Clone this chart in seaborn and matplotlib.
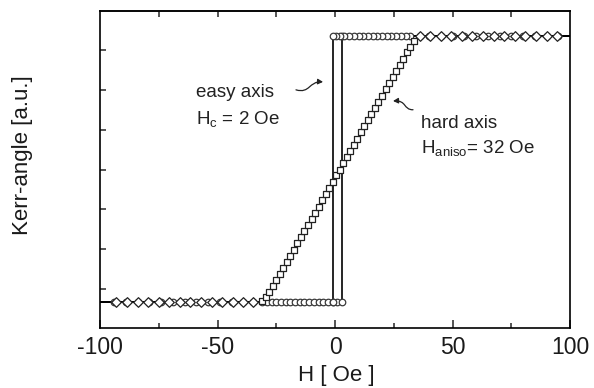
import matplotlib
matplotlib.use("Agg")
import matplotlib.pyplot as plt
import seaborn as sns
import pandas as pd
from matplotlib.patches import FancyArrowPatch
from matplotlib.path import Path

# ---------------- data ----------------
LOW = 0.67
HIGH = 7.36

# easy axis, field increasing (low level, jump at +3.1 Oe)
easy_up_x = [-94, -89, -84, -79, -74, -69, -64, -59, -54, -49, -44, -39, -35,
             -31, -29, -27, -25, -23, -21, -19, -17, -15, -13, -11, -9, -7,
             -5, -3, -1, 1, 3.1, 3.1]
easy_up_y = [LOW] * 31 + [HIGH]

# easy axis, field decreasing (high level, jump at -0.8 Oe)
easy_down_x = [95, 90, 85, 80, 75, 70, 65, 60, 55, 50, 45, 40, 36, 32, 30, 28,
               26, 24, 22, 20, 18, 16, 14, 12, 10, 8, 6, 4, 2, 0.5, -0.8, -0.8]
easy_down_y = [HIGH] * 31 + [LOW]

# guide line of the square loop
loop_x = [-100, 3.1, 3.1, 100, -0.8, -0.8, -100]
loop_y = [LOW, LOW, HIGH, HIGH, HIGH, LOW, LOW]

# hard axis, saturated parts (diamonds)
hard_sat_x = [-93, -88.5, -84, -79.5, -75, -70.5, -66, -61.5, -57, -52.5, -48,
              -43.5, -39, -35,
              36, 40.5, 45, 49.5, 54, 58.5, 63, 67.5, 72, 76.5, 81, 85.5, 90, 94.5]
hard_sat_y = [LOW] * 14 + [HIGH] * 14

# hard axis, linear part (squares)
hard_lin_x = [-31, -29.5, -28, -26.5, -25, -23.5, -22, -20.5, -19, -17.5, -16,
              -14.5, -13, -11.5, -10, -8.5, -7, -5.5, -4, -2.5, -1, 0.5, 2,
              3.5, 5, 6.5, 8, 9.5, 11, 12.5, 14, 15.5, 17, 18.5, 20, 21.5, 23,
              24.5, 26, 27.5, 29, 30.5, 32, 33.5]
hard_lin_y = [0.70, 0.80, 0.93, 1.07, 1.22, 1.37, 1.53, 1.68, 1.84, 1.99, 2.15,
              2.30, 2.46, 2.61, 2.76, 2.92, 3.07, 3.23, 3.38, 3.54, 3.69, 3.85,
              4.00, 4.16, 4.31, 4.46, 4.62, 4.77, 4.93, 5.08, 5.24, 5.39, 5.55,
              5.70, 5.85, 6.01, 6.16, 6.32, 6.47, 6.63, 6.78, 6.94, 7.08, 7.22]

x_major = [-100, -50, 0, 50, 100]
x_minor = [-75, -25, 25, 75]
x_top = [-75, -50, -25, 0, 25, 50, 75]
y_ticks = [1, 2, 3, 4, 5, 6, 7]

# ---------------- figure ----------------
sns.set_theme(style="ticks")
plt.rcParams["font.family"] = ["Liberation Sans", "DejaVu Sans"]
plt.rcParams["mathtext.fontset"] = "custom"
plt.rcParams["mathtext.rm"] = "Liberation Sans"
plt.rcParams["mathtext.it"] = "Liberation Sans"

fig = plt.figure(figsize=(5.94, 3.88), dpi=100)
ax = fig.add_axes([100 / 594, 60 / 388, 470 / 594, 317 / 388])

loop_df = pd.DataFrame({"x": loop_x, "y": loop_y})
sns.lineplot(data=loop_df, x="x", y="y", sort=False, estimator=None,
             color="black", linewidth=1.2, ax=ax, zorder=2)

mk_edge = "#3a3a3a"
for xs, ys in [(easy_up_x, easy_up_y), (easy_down_x, easy_down_y)]:
    sns.scatterplot(x=xs, y=ys, marker="o", s=22, facecolor="white",
                    edgecolor=mk_edge, linewidth=0.9, ax=ax, zorder=3)

sns.scatterplot(x=hard_sat_x, y=hard_sat_y, marker="D", s=24, facecolor="white",
                edgecolor="#222222", linewidth=0.9, ax=ax, zorder=4)
sns.scatterplot(x=hard_lin_x, y=hard_lin_y, marker="s", s=24, facecolor="white",
                edgecolor="#222222", linewidth=0.9, ax=ax, zorder=4)

ax.set_xlim(-100, 100)
ax.set_ylim(0.02, 7.98)

ax.set_xticks(x_major)
ax.set_xticks(x_minor, minor=True)
ax.set_xticklabels([str(v) for v in x_major], fontsize=16.5, color="#1a1a1a")
ax.set_yticks(y_ticks)
ax.set_yticklabels([])
ax.tick_params(axis="x", which="major", direction="in", length=6, width=1.1,
               pad=6)
ax.tick_params(axis="x", which="minor", direction="in", length=3.5, width=1.1)
ax.tick_params(axis="y", direction="in", length=4, width=1.1, left=True, right=False)

top = ax.secondary_xaxis("top")
top.set_xticks(x_top)
top.set_xticklabels([])
top.tick_params(direction="in", length=4, width=1.1)

for s in ax.spines.values():
    s.set_visible(True)
    s.set_linewidth(1.2)
    s.set_color("black")
top.spines["top"].set_linewidth(1.2)

ax.set_xlabel("H [ Oe ]", fontsize=16, color="#1a1a1a")
ax.set_ylabel("Kerr-angle [a.u.]", fontsize=16, color="#1a1a1a")
ax.xaxis.set_label_coords(0.502, -0.117)
ax.yaxis.set_label_coords(-0.143, 0.546)

# annotations
tkw = dict(fontsize=13.5, color="#222222")
ax.text(-59.1, 5.82, "easy axis", ha="left", va="baseline", **tkw)
ax.text(-59.1, 5.15, "H$_\\mathregular{c}$ = 2 Oe", ha="left", va="baseline", **tkw)
ax.text(36.6, 5.05, "hard axis", ha="left", va="baseline", **tkw)
ax.text(36.6, 4.42, "H$_\\mathregular{aniso}$= 32 Oe", ha="left", va="baseline", **tkw)

codes = [Path.MOVETO, Path.CURVE4, Path.CURVE4, Path.CURVE4]
easy_path = Path([(-16.6, 6.00), (-10.6, 5.90), (-11.1, 6.22), (-5.1, 6.20)], codes)
hard_path = Path([(33.2, 5.50), (29.0, 5.50), (30.6, 5.74), (24.7, 5.72)], codes)
for p in (easy_path, hard_path):
    ax.add_patch(FancyArrowPatch(path=p, arrowstyle="-|>,head_length=3,head_width=1.6",
                                 color="#222222", linewidth=0.9, zorder=5))

fig.savefig("out.png", dpi=100)
